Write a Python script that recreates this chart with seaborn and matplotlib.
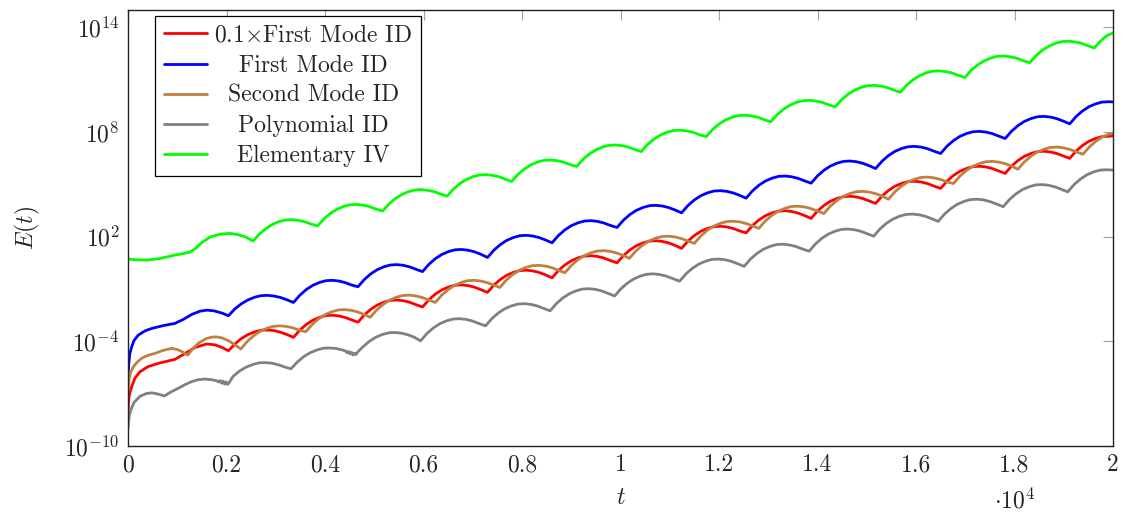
import numpy as np
import pandas as pd
import matplotlib
matplotlib.use("Agg")
import matplotlib.pyplot as plt
import seaborn as sns
from matplotlib.ticker import FixedLocator, FuncFormatter, NullLocator

sns.set_style("white")
plt.rcParams.update({
    "font.family": ["cmr10"],
    "mathtext.fontset": "cm",
    "axes.formatter.use_mathtext": True,
    "axes.unicode_minus": False,
})

# ---------------- data (t in units of 10^4, values as log10 E) ----------------
labels = ["0.1$\\times$First Mode ID", "First Mode ID", "Second Mode ID",
          "Polynomial ID", "Elementary IV"]
colors = ["#ff0000", "#0000ff", "#bf8040", "#808080", "#00ff00"]

blue_t = [0.000, 0.0016, 0.0037, 0.0075, 0.0122, 0.0209, 0.0345, 0.0481, 0.0711, 0.0954,
          0.1117, 0.1299, 0.1462, 0.1598, 0.1746, 0.1909,
          0.204, 0.217, 0.230, 0.243, 0.257, 0.270, 0.283, 0.296, 0.309, 0.322,
          0.336, 0.349, 0.362, 0.375, 0.389, 0.402, 0.415, 0.428, 0.441, 0.454,
          0.467, 0.480, 0.493, 0.506, 0.520, 0.533, 0.546, 0.559, 0.572, 0.585,
          0.598, 0.611, 0.624, 0.637, 0.651, 0.664, 0.677, 0.690, 0.703, 0.716,
          0.730, 0.743, 0.756, 0.769, 0.783, 0.796, 0.809, 0.822, 0.835, 0.848,
          0.861, 0.874, 0.887, 0.900, 0.914, 0.927, 0.940, 0.953, 0.966, 0.979,
          0.993, 1.006, 1.019, 1.032, 1.046, 1.059, 1.072, 1.085, 1.098, 1.111,
          1.124, 1.137, 1.150, 1.163, 1.177, 1.190, 1.203, 1.216, 1.229, 1.242,
          1.255, 1.268, 1.281, 1.294, 1.308, 1.321, 1.334, 1.347, 1.360, 1.373,
          1.387, 1.400, 1.413, 1.426, 1.440, 1.453, 1.466, 1.479, 1.492, 1.505,
          1.518, 1.531, 1.544, 1.557, 1.571, 1.584, 1.597, 1.610, 1.623, 1.636,
          1.650, 1.663, 1.676, 1.689, 1.703, 1.716, 1.729, 1.742, 1.755, 1.768,
          1.781, 1.794, 1.807, 1.820, 1.834, 1.847, 1.860, 1.873, 1.886, 1.899,
          1.912, 1.925, 1.938, 1.951, 1.965, 1.978, 1.991, 2.000]
blue_log = [-6.03, -5.30, -4.70, -4.31, -3.95, -3.64, -3.40, -3.26, -3.10, -2.97,
            -2.75, -2.45, -2.27, -2.21, -2.25, -2.38,
            -2.53, -2.14, -1.85, -1.63, -1.47, -1.38, -1.36, -1.40, -1.48, -1.61,
            -1.77, -1.35, -1.03, -0.79, -0.62, -0.52, -0.50, -0.54, -0.63, -0.77,
            -0.87, -0.45, -0.13, 0.11, 0.28, 0.38, 0.40, 0.36, 0.27, 0.13,
            0.00, 0.42, 0.74, 0.98, 1.15, 1.25, 1.27, 1.23, 1.14, 1.00,
            0.81, 1.23, 1.55, 1.79, 1.96, 2.06, 2.08, 2.04, 1.95, 1.81,
            1.65, 2.07, 2.39, 2.63, 2.80, 2.90, 2.92, 2.88, 2.79, 2.65,
            2.53, 2.95, 3.27, 3.51, 3.68, 3.78, 3.80, 3.76, 3.67, 3.53,
            3.37, 3.79, 4.11, 4.35, 4.52, 4.62, 4.64, 4.60, 4.51, 4.37,
            4.21, 4.63, 4.95, 5.19, 5.36, 5.46, 5.48, 5.44, 5.35, 5.21,
            5.07, 5.49, 5.81, 6.05, 6.22, 6.32, 6.34, 6.30, 6.21, 6.07,
            5.91, 6.33, 6.65, 6.89, 7.06, 7.16, 7.18, 7.14, 7.05, 6.91,
            6.77, 7.19, 7.51, 7.75, 7.92, 8.02, 8.04, 8.00, 7.91, 7.77,
            7.63, 8.05, 8.37, 8.61, 8.78, 8.88, 8.90, 8.86, 8.77, 8.63,
            8.47, 8.89, 9.21, 9.45, 9.62, 9.72, 9.74, 9.73]

red_t = [0.000, 0.0016, 0.0037, 0.0075, 0.0142, 0.0244, 0.0406, 0.0615, 0.0954, 0.1157,
         0.1360, 0.1598, 0.1766, 0.1909,
         0.204, 0.217, 0.230, 0.243, 0.257, 0.270, 0.283, 0.296, 0.309, 0.322,
         0.336, 0.349, 0.362, 0.375, 0.389, 0.402, 0.415, 0.428, 0.441, 0.454,
         0.467, 0.480, 0.493, 0.506, 0.520, 0.533, 0.546, 0.559, 0.572, 0.585,
         0.598, 0.611, 0.624, 0.637, 0.651, 0.664, 0.677, 0.690, 0.703, 0.716,
         0.730, 0.743, 0.756, 0.769, 0.783, 0.796, 0.809, 0.822, 0.835, 0.848,
         0.861, 0.874, 0.887, 0.900, 0.914, 0.927, 0.940, 0.953, 0.966, 0.979,
         0.993, 1.006, 1.019, 1.032, 1.046, 1.059, 1.072, 1.085, 1.098, 1.111,
         1.124, 1.137, 1.150, 1.163, 1.177, 1.190, 1.203, 1.216, 1.229, 1.242,
         1.255, 1.268, 1.281, 1.294, 1.308, 1.321, 1.334, 1.347, 1.360, 1.373,
         1.387, 1.400, 1.413, 1.426, 1.440, 1.453, 1.466, 1.479, 1.492, 1.505,
         1.518, 1.531, 1.544, 1.557, 1.571, 1.584, 1.597, 1.610, 1.623, 1.636,
         1.650, 1.663, 1.676, 1.689, 1.703, 1.716, 1.729, 1.742, 1.755, 1.768,
         1.781, 1.794, 1.807, 1.820, 1.834, 1.847, 1.860, 1.873, 1.886, 1.899,
         1.912, 1.925, 1.938, 1.951, 1.965, 1.978, 1.991, 2.000]
red_log = [-8.03, -7.30, -6.95, -6.60, -6.10, -5.74, -5.45, -5.26, -5.03, -4.70,
           -4.35, -4.15, -4.20, -4.35,
           -4.54, -4.15, -3.84, -3.62, -3.46, -3.36, -3.35, -3.38, -3.47, -3.60,
           -3.77, -3.35, -3.03, -2.79, -2.62, -2.52, -2.50, -2.54, -2.63, -2.77,
           -2.90, -2.48, -2.16, -1.92, -1.75, -1.65, -1.63, -1.67, -1.76, -1.90,
           -2.03, -1.61, -1.29, -1.05, -0.88, -0.78, -0.76, -0.80, -0.89, -1.03,
           -1.19, -0.77, -0.45, -0.21, -0.04, 0.06, 0.08, 0.04, -0.05, -0.19,
           -0.36, 0.06, 0.38, 0.62, 0.79, 0.89, 0.91, 0.87, 0.78, 0.64,
           0.50, 0.92, 1.24, 1.48, 1.65, 1.75, 1.77, 1.73, 1.64, 1.50,
           1.33, 1.75, 2.07, 2.31, 2.48, 2.58, 2.60, 2.56, 2.47, 2.33,
           2.22, 2.64, 2.96, 3.20, 3.37, 3.47, 3.49, 3.45, 3.36, 3.22,
           3.05, 3.47, 3.79, 4.03, 4.20, 4.30, 4.32, 4.28, 4.19, 4.05,
           3.91, 4.33, 4.65, 4.89, 5.06, 5.16, 5.18, 5.14, 5.05, 4.91,
           4.77, 5.19, 5.51, 5.75, 5.92, 6.02, 6.04, 6.00, 5.91, 5.77,
           5.63, 6.05, 6.37, 6.61, 6.78, 6.88, 6.90, 6.86, 6.77, 6.63,
           6.49, 6.91, 7.23, 7.47, 7.64, 7.74, 7.76, 7.78]

brown_t = [0.000, 0.002, 0.0051, 0.0108, 0.0183, 0.0278, 0.0406, 0.0548, 0.0711, 0.0887,
           0.1015, 0.1117, 0.1212, 0.1320, 0.1442, 0.1584, 0.1681, 0.1781, 0.1909, 0.2051,
           0.2173,
           0.229, 0.242, 0.255, 0.268, 0.282, 0.295, 0.308, 0.321, 0.334, 0.347,
           0.361, 0.374, 0.387, 0.400, 0.414, 0.427, 0.440, 0.453, 0.466, 0.479,
           0.492, 0.505, 0.518, 0.531, 0.545, 0.558, 0.571, 0.584, 0.597, 0.610,
           0.624, 0.637, 0.650, 0.663, 0.677, 0.690, 0.703, 0.716, 0.729, 0.742,
           0.755, 0.768, 0.781, 0.794, 0.808, 0.821, 0.834, 0.847, 0.860, 0.873,
           0.887, 0.900, 0.913, 0.926, 0.940, 0.953, 0.966, 0.979, 0.992, 1.005,
           1.018, 1.031, 1.044, 1.057, 1.071, 1.084, 1.097, 1.110, 1.123, 1.136,
           1.150, 1.163, 1.176, 1.189, 1.203, 1.216, 1.229, 1.242, 1.255, 1.268,
           1.281, 1.294, 1.307, 1.320, 1.334, 1.347, 1.360, 1.373, 1.386, 1.399,
           1.413, 1.426, 1.439, 1.452, 1.466, 1.479, 1.492, 1.505, 1.518, 1.531,
           1.544, 1.557, 1.570, 1.583, 1.597, 1.610, 1.623, 1.636, 1.649, 1.662,
           1.676, 1.689, 1.702, 1.715, 1.729, 1.742, 1.755, 1.768, 1.781, 1.794,
           1.807, 1.820, 1.833, 1.846, 1.860, 1.873, 1.886, 1.899, 1.912, 1.925,
           1.939, 1.952, 1.965, 1.978, 1.991, 2.000]
brown_log = [-6.89, -6.20, -5.80, -5.46, -5.20, -4.97, -4.80, -4.69, -4.52, -4.40,
             -4.48, -4.62, -4.79, -4.40, -4.08, -3.85, -3.77, -3.74, -3.80, -3.98,
             -4.20,
             -4.44, -4.01, -3.68, -3.43, -3.25, -3.14, -3.11, -3.14, -3.22, -3.35,
             -3.45, -3.03, -2.71, -2.47, -2.30, -2.20, -2.18, -2.22, -2.31, -2.45,
             -2.62, -2.20, -1.88, -1.64, -1.47, -1.37, -1.35, -1.39, -1.48, -1.62,
             -1.77, -1.35, -1.03, -0.79, -0.62, -0.52, -0.50, -0.54, -0.63, -0.77,
             -0.91, -0.49, -0.17, 0.07, 0.24, 0.34, 0.36, 0.32, 0.23, 0.09,
             -0.07, 0.35, 0.67, 0.91, 1.08, 1.18, 1.20, 1.16, 1.07, 0.93,
             0.76, 1.18, 1.50, 1.74, 1.91, 2.01, 2.03, 1.99, 1.90, 1.76,
             1.62, 2.04, 2.36, 2.60, 2.77, 2.87, 2.89, 2.85, 2.76, 2.62,
             2.48, 2.90, 3.22, 3.46, 3.63, 3.73, 3.75, 3.71, 3.62, 3.48,
             3.33, 3.75, 4.07, 4.31, 4.48, 4.58, 4.60, 4.56, 4.47, 4.33,
             4.15, 4.57, 4.89, 5.13, 5.30, 5.40, 5.42, 5.38, 5.29, 5.15,
             5.05, 5.47, 5.79, 6.03, 6.20, 6.30, 6.32, 6.28, 6.19, 6.05,
             5.87, 6.29, 6.61, 6.85, 7.02, 7.12, 7.14, 7.10, 7.01, 6.87,
             6.73, 7.15, 7.47, 7.71, 7.88, 7.92]

gray_t = [0.000, 0.001, 0.003, 0.0055, 0.0122, 0.0244, 0.0365, 0.0481, 0.0609, 0.0737,
          0.0873, 0.1021, 0.1157, 0.1293, 0.1421, 0.1563,
          0.170, 0.180, 0.184, 0.187, 0.190, 0.193, 0.196, 0.199, 0.202, 0.205,
          0.213, 0.226, 0.239, 0.253, 0.266, 0.279, 0.292, 0.305, 0.318,
          0.331, 0.344, 0.357, 0.370, 0.384, 0.397, 0.410, 0.423, 0.436,
          0.442, 0.445, 0.448, 0.451, 0.454, 0.457, 0.460, 0.463, 0.466,
          0.476, 0.489, 0.502, 0.516, 0.529, 0.542, 0.555, 0.568, 0.581,
          0.594, 0.607, 0.620, 0.633, 0.647, 0.660, 0.673, 0.686, 0.699, 0.712,
          0.726, 0.739, 0.752, 0.765, 0.779, 0.792, 0.805, 0.818, 0.831, 0.844,
          0.857, 0.870, 0.883, 0.896, 0.910, 0.923, 0.936, 0.949, 0.962, 0.975,
          0.988, 1.001, 1.014, 1.027, 1.041, 1.054, 1.067, 1.080, 1.093, 1.106,
          1.120, 1.133, 1.146, 1.159, 1.173, 1.186, 1.199, 1.212, 1.225, 1.238,
          1.251, 1.264, 1.277, 1.290, 1.304, 1.317, 1.330, 1.343, 1.356, 1.369,
          1.383, 1.396, 1.409, 1.422, 1.436, 1.449, 1.462, 1.475, 1.488, 1.501,
          1.514, 1.527, 1.540, 1.553, 1.567, 1.580, 1.593, 1.606, 1.619, 1.632,
          1.645, 1.658, 1.671, 1.684, 1.698, 1.711, 1.724, 1.737, 1.750, 1.763,
          1.777, 1.790, 1.803, 1.816, 1.830, 1.843, 1.856, 1.869, 1.882, 1.895,
          1.908, 1.921, 1.934, 1.947, 1.961, 1.974, 1.987, 2.000]
gray_log = [-9.00, -8.60, -8.20, -7.95, -7.50, -7.15, -7.00, -6.95, -7.02, -7.13,
            -6.90, -6.69, -6.48, -6.31, -6.20, -6.16,
            -6.20, -6.26, -6.33, -6.25, -6.40, -6.28, -6.45, -6.32, -6.47, -6.38,
            -6.02, -5.71, -5.49, -5.33, -5.23, -5.22, -5.25, -5.34, -5.47,
            -5.57, -5.18, -4.87, -4.65, -4.49, -4.39, -4.38, -4.41, -4.50,
            -4.56, -4.66, -4.58, -4.72, -4.63, -4.78, -4.68, -4.76, -4.62,
            -4.34, -4.02, -3.78, -3.61, -3.51, -3.49, -3.53, -3.62, -3.76,
            -3.97, -3.55, -3.23, -2.99, -2.82, -2.72, -2.70, -2.74, -2.83, -2.97,
            -3.11, -2.69, -2.37, -2.13, -1.96, -1.86, -1.84, -1.88, -1.97, -2.11,
            -2.25, -1.83, -1.51, -1.27, -1.10, -1.00, -0.98, -1.02, -1.11, -1.25,
            -1.40, -0.98, -0.66, -0.42, -0.25, -0.15, -0.13, -0.17, -0.26, -0.40,
            -0.55, -0.13, 0.19, 0.43, 0.60, 0.70, 0.72, 0.68, 0.59, 0.45,
            0.30, 0.72, 1.04, 1.28, 1.45, 1.55, 1.57, 1.53, 1.44, 1.30,
            1.17, 1.59, 1.91, 2.15, 2.32, 2.42, 2.44, 2.40, 2.31, 2.17,
            2.03, 2.45, 2.77, 3.01, 3.18, 3.28, 3.30, 3.26, 3.17, 3.03,
            2.88, 3.30, 3.62, 3.86, 4.03, 4.13, 4.15, 4.11, 4.02, 3.88,
            3.72, 4.14, 4.46, 4.70, 4.87, 4.97, 4.99, 4.95, 4.86, 4.72,
            4.57, 4.99, 5.31, 5.55, 5.72, 5.82, 5.84, 5.82]

green_t = [0.000, 0.0162, 0.0386, 0.0650, 0.0954, 0.1117, 0.1259, 0.1381, 0.1503, 0.1665,
           0.1868, 0.2071, 0.2234, 0.2396,
           0.254, 0.267, 0.280, 0.293, 0.307, 0.320, 0.333, 0.346, 0.359, 0.372,
           0.385, 0.398, 0.411, 0.424, 0.438, 0.451, 0.464, 0.477, 0.490, 0.503,
           0.517, 0.530, 0.543, 0.556, 0.570, 0.583, 0.596, 0.609, 0.622, 0.635,
           0.648, 0.661, 0.674, 0.687, 0.701, 0.714, 0.727, 0.740, 0.753, 0.766,
           0.779, 0.792, 0.805, 0.818, 0.832, 0.845, 0.858, 0.871, 0.884, 0.897,
           0.911, 0.924, 0.937, 0.950, 0.964, 0.977, 0.990, 1.003, 1.016, 1.029,
           1.042, 1.055, 1.068, 1.081, 1.095, 1.108, 1.121, 1.134, 1.147, 1.160,
           1.174, 1.187, 1.200, 1.213, 1.227, 1.240, 1.253, 1.266, 1.279, 1.292,
           1.305, 1.318, 1.331, 1.344, 1.358, 1.371, 1.384, 1.397, 1.410, 1.423,
           1.436, 1.449, 1.462, 1.475, 1.489, 1.502, 1.515, 1.528, 1.541, 1.554,
           1.568, 1.581, 1.594, 1.607, 1.621, 1.634, 1.647, 1.660, 1.673, 1.686,
           1.699, 1.712, 1.725, 1.738, 1.752, 1.765, 1.778, 1.791, 1.804, 1.817,
           1.831, 1.844, 1.857, 1.870, 1.884, 1.897, 1.910, 1.923, 1.936, 1.949,
           1.962, 1.975, 1.988, 2.000]
green_log = [0.72, 0.68, 0.66, 0.75, 0.95, 1.03, 1.12, 1.35, 1.68, 1.98,
             2.15, 2.19, 2.12, 1.97,
             1.75, 2.16, 2.47, 2.70, 2.87, 2.96, 2.98, 2.94, 2.86, 2.72,
             2.62, 3.03, 3.34, 3.57, 3.74, 3.83, 3.85, 3.81, 3.73, 3.59,
             3.47, 3.88, 4.19, 4.42, 4.59, 4.68, 4.70, 4.66, 4.58, 4.44,
             4.33, 4.74, 5.05, 5.28, 5.45, 5.54, 5.56, 5.52, 5.44, 5.30,
             5.17, 5.58, 5.89, 6.12, 6.29, 6.38, 6.40, 6.36, 6.28, 6.14,
             6.03, 6.44, 6.75, 6.98, 7.15, 7.24, 7.26, 7.22, 7.14, 7.00,
             6.88, 7.29, 7.60, 7.83, 8.00, 8.09, 8.11, 8.07, 7.99, 7.85,
             7.74, 8.15, 8.46, 8.69, 8.86, 8.95, 8.97, 8.93, 8.85, 8.71,
             8.59, 9.00, 9.31, 9.54, 9.71, 9.80, 9.82, 9.78, 9.70, 9.56,
             9.45, 9.86, 10.17, 10.40, 10.57, 10.66, 10.68, 10.64, 10.56, 10.42,
             10.28, 10.69, 11.00, 11.23, 11.40, 11.49, 11.51, 11.47, 11.39, 11.25,
             11.13, 11.54, 11.85, 12.08, 12.25, 12.34, 12.36, 12.32, 12.24, 12.10,
             11.98, 12.39, 12.70, 12.93, 13.10, 13.19, 13.21, 13.17, 13.09, 12.95,
             12.82, 13.23, 13.54, 13.68]

x_ticks = [0, 0.2, 0.4, 0.6, 0.8, 1, 1.2, 1.4, 1.6, 1.8, 2]
x_tick_labels = ["0", "0.2", "0.4", "0.6", "0.8", "1", "1.2", "1.4", "1.6", "1.8", "2"]
y_ticks = [1e-10, 1e-4, 1e2, 1e8, 1e14]

# ---------------- figure ----------------
W, H = 1122, 515
fig = plt.figure(figsize=(W / 100, H / 100), dpi=100)
ax = fig.add_axes([128 / W, 69 / H, 985 / W, 436 / H])

all_t = [red_t, blue_t, brown_t, gray_t, green_t]
all_log = [red_log, blue_log, brown_log, gray_log, green_log]
for lab, col, tt, ll in zip(labels, colors, all_t, all_log):
    df = pd.DataFrame({"t": tt, "E": np.power(10.0, np.array(ll))})
    sns.lineplot(data=df, x="t", y="E", ax=ax, color=col, linewidth=2.0,
                 label=lab, sort=False, estimator=None)

ax.set_yscale("log")
ax.set_xlim(0, 2)
ax.set_ylim(1e-10, 1e15)
ax.yaxis.set_major_locator(FixedLocator(y_ticks))
ax.yaxis.set_minor_locator(NullLocator())
ax.yaxis.set_major_formatter(FuncFormatter(lambda v, p: r"$10^{%d}$" % round(np.log10(v))))
ax.xaxis.set_major_locator(FixedLocator(x_ticks))
ax.xaxis.set_major_formatter(FuncFormatter(
    lambda v, p: x_tick_labels[p] if p is not None and p < len(x_tick_labels) else "%g" % v))
ax.xaxis.set_minor_locator(NullLocator())

FS = 17
ax.tick_params(axis="both", which="major", direction="in", length=7, width=0.8,
               color="#a0a0a0", top=True, right=True, labelsize=FS, pad=6)
for s in ax.spines.values():
    s.set_color("#222222")
    s.set_linewidth(1.0)
ax.grid(False)

ax.set_xlabel("$t$", fontsize=FS)
ax.set_ylabel("$E(t)$", fontsize=FS)
ax.xaxis.label.set_va("center")
ax.xaxis.set_label_coords(0.5, -(498 - 446) / 436)
ax.yaxis.label.set_va("center")
ax.yaxis.set_label_coords((27 - 128) / 985, 0.5)

fig.text(1015 / W, 1.5 / H, r"$\cdot 10^{4}$", ha="center", va="bottom", fontsize=FS)

leg = ax.legend(loc="upper left", bbox_to_anchor=(27 / 985, (446 - 16) / 436),
                borderaxespad=0, frameon=True, fancybox=False, edgecolor="black",
                framealpha=1, fontsize=FS, handlelength=1.85, handletextpad=0.3,
                labelspacing=0.34, borderpad=0.36)
leg.get_frame().set_linewidth(0.9)
for line in leg.get_lines():
    line.set_linewidth(2.0)

# center the legend texts like pgfplots
fig.canvas.draw()
texts = leg.get_texts()
widths = [t.get_window_extent().width for t in texts]
mw = max(widths)
for t, w in zip(texts, widths):
    t.set_position(((mw - w) / 2, 0))

fig.savefig("out.png", dpi=100)
